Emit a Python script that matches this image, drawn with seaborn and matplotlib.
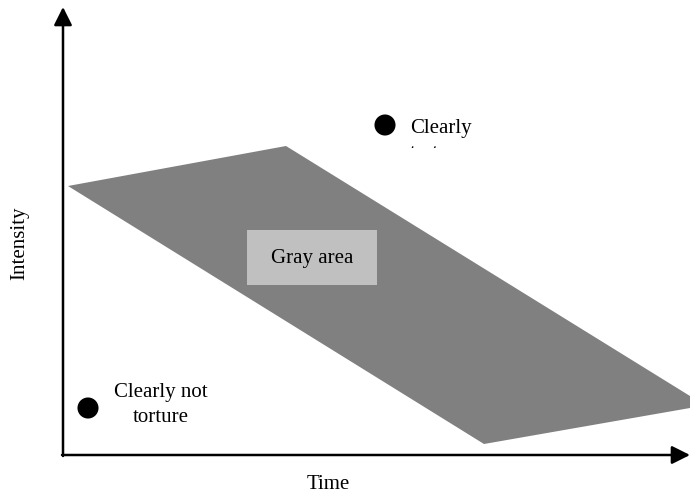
import matplotlib
matplotlib.use("Agg")
import matplotlib.pyplot as plt
import matplotlib.patches as mpatches
import seaborn as sns
import pandas as pd

sns.set_style("white")
plt.rcParams['font.family'] = ['Liberation Serif', 'DejaVu Serif']
plt.rcParams['text.color'] = 'black'

# gray region outline (time, intensity) in figure-pixel units
region_time = [68, 286, 690, 690, 484]
region_intensity = [186, 146, 396, 408, 444]

# inner label box
box_time = [247, 377]
box_intensity = [230, 285]

points = pd.DataFrame({
    "time": [385, 88],
    "intensity": [125, 408],
    "label": ["Clearly\ntorture", "Clearly not\ntorture"],
})

fig = plt.figure(figsize=(6.9, 4.94), dpi=100)
ax = fig.add_axes([0, 0, 1, 1])
ax.set_xlim(0, 690)
ax.set_ylim(494, 0)
ax.axis("off")

ax.fill(region_time, region_intensity, color="#808080", lw=0, zorder=1)
ax.add_patch(mpatches.Rectangle((box_time[0], box_intensity[0]),
                                box_time[1] - box_time[0], box_intensity[1] - box_intensity[0],
                                color="#c0c0c0", lw=0, zorder=2))
ax.text(sum(box_time) / 2, sum(box_intensity) / 2 + 1, "Gray area",
        ha="center", va="center", fontsize=15, zorder=3)

sns.scatterplot(data=points, x="time", y="intensity", s=230, color="black",
                edgecolor="none", ax=ax, zorder=4, legend=False)

# "Clearly torture" label, second line is cut off in the original
ax.text(410, 141, points["label"][0], ha="left", va="center", fontsize=15,
        linespacing=1.45, zorder=4)
ax.add_patch(mpatches.Rectangle((398, 148), 100, 40, color="white", lw=0, zorder=5))

ax.text(161, 405, points["label"][1], ha="center", va="center", fontsize=15,
        linespacing=1.45, zorder=4)

# axes with arrows
arrow = dict(arrowstyle="-|>,head_length=1.1,head_width=0.55",
             color="black", lw=1.8, shrinkA=0, shrinkB=0)
ax.annotate("", xy=(63, 7), xytext=(63, 456), arrowprops=arrow)
ax.annotate("", xy=(690, 455), xytext=(62, 455), arrowprops=arrow)

ax.text(328, 484, "Time", ha="center", va="center", fontsize=15)
ax.text(20, 243, "Intensity", ha="center", va="center", fontsize=15, rotation=90)

fig.savefig("out.png", dpi=100)
